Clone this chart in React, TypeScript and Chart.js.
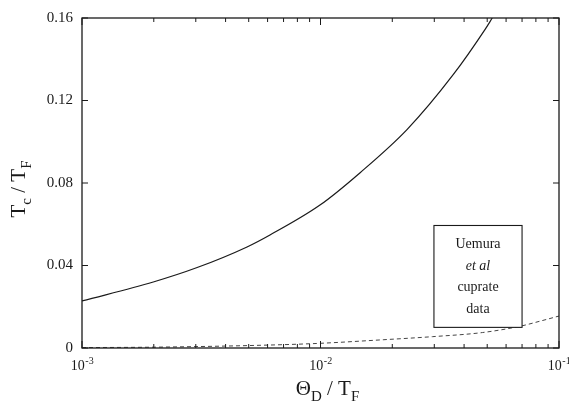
import React, { useEffect, useRef } from "react";
import { Chart, registerables } from "chart.js";

Chart.register(...registerables);

// Solid curve: Tc/TF vs ΘD/TF
const solidX = [0.001, 0.00199, 0.00304, 0.00492, 0.00614, 0.00995, 0.01466, 0.0231, 0.036, 0.049, 0.0525];
const solidY = [0.0228, 0.032, 0.039, 0.049, 0.0548, 0.0693, 0.085, 0.106, 0.1325, 0.1545, 0.16];

// Dashed curve (Uemura et al cuprate data)
const dashX = [0.001, 0.002, 0.00506, 0.00965, 0.0183, 0.0295, 0.0478, 0.0684, 0.0832, 0.1];
const dashY = [0.0002, 0.0004, 0.0012, 0.0022, 0.004, 0.0055, 0.0075, 0.0105, 0.013, 0.0155];

const xMajorTicks = [0.001, 0.01, 0.1];
const xExponents = ["-3", "-2", "-1"];
const yTicks = [0, 0.04, 0.08, 0.12, 0.16];
const legendLines = ["Uemura", "et al", "cuprate", "data"];
// legend box corners in data units
const legendBoxX = [0.0299, 0.07];
const legendBoxY = [0.01, 0.0594];

const SERIF = '"Liberation Serif", "DejaVu Serif", serif';
const INK = "#1a1a1a";

const framePlugin = {
  id: "framePlugin",
  afterDraw(chart: any) {
    const ctx = chart.ctx as CanvasRenderingContext2D;
    const { left, right, top, bottom } = chart.chartArea;
    const xs = chart.scales.x;
    const ys = chart.scales.y;
    ctx.save();
    ctx.strokeStyle = INK;
    ctx.lineWidth = 1.3;
    ctx.strokeRect(left, top, right - left, bottom - top);

    // x ticks (inward, bottom and top)
    ctx.lineWidth = 1;
    ctx.beginPath();
    for (let d = -3; d <= -1; d++) {
      const base = Math.pow(10, d);
      for (let m = 1; m <= 9; m++) {
        const v = base * m;
        if (v > 0.1 * 1.0001) break;
        const px = xs.getPixelForValue(v);
        const len = m === 1 ? 7 : 4;
        ctx.moveTo(px, bottom);
        ctx.lineTo(px, bottom - len);
        ctx.moveTo(px, top);
        ctx.lineTo(px, top + len);
      }
    }
    // y ticks (inward, left and right)
    yTicks.forEach((v) => {
      const py = ys.getPixelForValue(v);
      ctx.moveTo(left, py);
      ctx.lineTo(left + 6, py);
      ctx.moveTo(right, py);
      ctx.lineTo(right - 6, py);
    });
    ctx.stroke();

    // x tick labels 10^n
    ctx.fillStyle = INK;
    ctx.textBaseline = "alphabetic";
    xMajorTicks.forEach((v, i) => {
      const px = xs.getPixelForValue(v);
      ctx.font = `14px ${SERIF}`;
      const wBase = ctx.measureText("10").width;
      ctx.font = `10px ${SERIF}`;
      const wExp = ctx.measureText(xExponents[i]).width;
      const start = px - (wBase + wExp) / 2;
      ctx.font = `14px ${SERIF}`;
      ctx.textAlign = "left";
      ctx.fillText("10", start, 370);
      ctx.font = `10px ${SERIF}`;
      ctx.fillText(xExponents[i], start + wBase + 0.5, 364);
    });

    // generic subscript title drawer
    const drawParts = (parts: { t: string; sub?: boolean }[], cx: number, baseY: number) => {
      let total = 0;
      const widths = parts.map((p) => {
        ctx.font = p.sub ? `15px ${SERIF}` : `21px ${SERIF}`;
        const w = ctx.measureText(p.t).width;
        total += w;
        return w;
      });
      let x = cx - total / 2;
      parts.forEach((p, i) => {
        ctx.font = p.sub ? `15px ${SERIF}` : `21px ${SERIF}`;
        ctx.textAlign = "left";
        ctx.fillText(p.t, x, p.sub ? baseY + 6 : baseY);
        x += widths[i];
      });
    };

    // x axis title
    drawParts(
      [{ t: "\u0398" }, { t: "D", sub: true }, { t: " / T" }, { t: "F", sub: true }],
      (left + right) / 2 + 7,
      395
    );

    // y axis title (rotated)
    ctx.save();
    ctx.translate(25, (top + bottom) / 2 + 6);
    ctx.rotate(-Math.PI / 2);
    drawParts([{ t: "T" }, { t: "c", sub: true }, { t: " / T" }, { t: "F", sub: true }], 0, 0);
    ctx.restore();

    // legend box
    const bx0 = xs.getPixelForValue(legendBoxX[0]);
    const bx1 = xs.getPixelForValue(legendBoxX[1]);
    const by0 = ys.getPixelForValue(legendBoxY[1]);
    const by1 = ys.getPixelForValue(legendBoxY[0]);
    ctx.fillStyle = "#ffffff";
    ctx.fillRect(bx0, by0, bx1 - bx0, by1 - by0);
    ctx.strokeStyle = INK;
    ctx.lineWidth = 1.1;
    ctx.strokeRect(bx0, by0, bx1 - bx0, by1 - by0);
    ctx.fillStyle = INK;
    ctx.textAlign = "center";
    const cx = (bx0 + bx1) / 2;
    legendLines.forEach((s, i) => {
      ctx.font = i === 1 ? `italic 14px ${SERIF}` : `14px ${SERIF}`;
      ctx.fillText(s, cx, by0 + 23 + i * 21.5);
    });
    ctx.restore();
  },
};

export default function App() {
  const ref = useRef<HTMLCanvasElement | null>(null);
  useEffect(() => {
    if (!ref.current) return;
    const chart = new Chart(ref.current, {
      type: "line",
      data: {
        datasets: [
          {
            data: solidX.map((x, i) => ({ x, y: solidY[i] })),
            borderColor: INK,
            borderWidth: 1.2,
            pointRadius: 0,
            cubicInterpolationMode: "monotone",
            fill: false,
          },
          {
            data: dashX.map((x, i) => ({ x, y: dashY[i] })),
            borderColor: "#444",
            borderWidth: 1,
            borderDash: [4, 3],
            pointRadius: 0,
            cubicInterpolationMode: "monotone",
            fill: false,
          },
        ],
      },
      options: {
        animation: false,
        responsive: false,
        maintainAspectRatio: false,
        layout: { padding: { top: 11, right: 10, left: 0, bottom: 0 } },
        plugins: { legend: { display: false }, tooltip: { enabled: false }, title: { display: false } },
        scales: {
          x: {
            type: "logarithmic",
            min: 0.001,
            max: 0.1,
            grid: { display: false },
            border: { display: false },
            ticks: { display: false },
            afterFit: (s: any) => {
              s.height = 60;
            },
          },
          y: {
            type: "linear",
            min: 0,
            max: 0.16,
            grid: { display: false, drawTicks: false },
            border: { display: false },
            ticks: {
              stepSize: 0.04,
              padding: 9,
              color: INK,
              font: { family: SERIF, size: 15 },
              callback: (v: any) => {
                const n = Number(v);
                return n === 0 ? "0" : n.toFixed(2);
              },
            },
            afterFit: (s: any) => {
              s.width = 82;
            },
          },
        },
      },
      plugins: [framePlugin],
    } as any);
    return () => chart.destroy();
  }, []);
  return (
    <div style={{ position: "fixed", left: 0, top: 0, width: 569, height: 408, background: "#fff" }}>
      <canvas ref={ref} width={569} height={408} style={{ width: 569, height: 408, display: "block" }} />
    </div>
  );
}
